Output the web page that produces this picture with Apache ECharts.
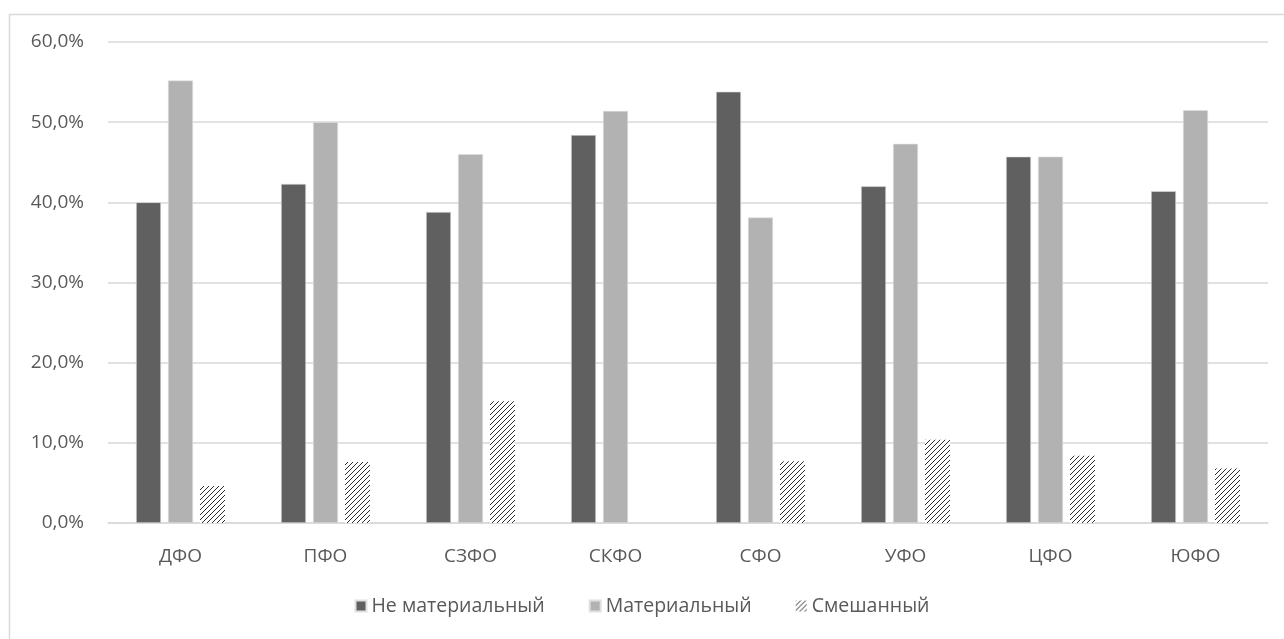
<!DOCTYPE html>
<html>
<head>
<meta charset="utf-8">
<script src="https://cdn.jsdelivr.net/npm/echarts@6/dist/echarts.min.js"></script>
<style>
html,body{margin:0;padding:0;background:#fff;}
#c{width:1284px;height:639px;}
</style>
</head>
<body>
<div id="c"></div>
<script>
const categories = ['ДФО','ПФО','СЗФО','СКФО','СФО','УФО','ЦФО','ЮФО'];
const seriesNames = ['Не материальный','Материальный','Смешанный'];
const nonMaterial = [40.0, 42.3, 38.8, 48.4, 53.8, 42.0, 45.7, 41.4];
const material    = [55.2, 50.0, 46.0, 51.4, 38.1, 47.3, 45.7, 51.5];
const mixed       = [4.6, 7.6, 15.2, 0, 7.7, 10.4, 8.4, 6.8];
const yTicks = [0, 10, 20, 30, 40, 50, 60];

function makePattern() {
  const s = 5;
  const cv = document.createElement('canvas');
  cv.width = s; cv.height = s;
  const ctx = cv.getContext('2d');
  ctx.fillStyle = '#ffffff';
  ctx.fillRect(0, 0, s, s);
  ctx.strokeStyle = '#2a2a2a';
  ctx.lineWidth = 1;
  ctx.beginPath();
  ctx.moveTo(-1, s + 1); ctx.lineTo(s + 1, -1);
  ctx.moveTo(-1, 1); ctx.lineTo(1, -1);
  ctx.moveTo(s - 1, s + 1); ctx.lineTo(s + 1, s - 1);
  ctx.stroke();
  return cv;
}
const pat = makePattern();
const hatch = { image: pat, repeat: 'repeat' };

const font = '"Open Sans", "Noto Sans", sans-serif';
const txt = '#595959';

const chart = echarts.init(document.getElementById('c'));
chart.setOption({
  animation: false,
  backgroundColor: '#fff',
  graphic: [{
    type: 'rect', left: 7, top: 12,
    shape: { x: 0, y: 0, width: 1400, height: 700 },
    style: { fill: 'none', stroke: '#d9d9d9', lineWidth: 1.5 },
    silent: true, z: -1
  }],
  grid: { left: 108, right: 16, top: 42, bottom: 116, containLabel: false },
  legend: {
    bottom: 18, left: 'center',
    itemWidth: 11, itemHeight: 11, itemGap: 44,
    icon: 'rect',
    textStyle: { color: txt, fontSize: 19.5, fontFamily: font },
    data: seriesNames
  },
  xAxis: {
    type: 'category', data: categories,
    axisLine: { lineStyle: { color: '#d9d9d9', width: 1.5 } },
    axisTick: { show: false },
    axisLabel: { color: txt, fontSize: 19, fontFamily: font, margin: 24 }
  },
  yAxis: {
    type: 'value', min: yTicks[0], max: yTicks[yTicks.length - 1], interval: 10,
    axisLine: { show: false }, axisTick: { show: false },
    splitLine: { lineStyle: { color: '#d9d9d9', width: 1.5 } },
    axisLabel: {
      color: txt, fontSize: 19, fontFamily: font, margin: 24,
      formatter: v => v.toFixed(1).replace('.', ',') + '%'
    }
  },
  series: [
    { name: seriesNames[0], type: 'bar', data: nonMaterial, barWidth: 25, barGap: '28%',
      itemStyle: { color: '#606060', borderColor: '#e0e0e0', borderWidth: 0.6 } },
    { name: seriesNames[1], type: 'bar', data: material, barWidth: 25, barGap: '28%',
      itemStyle: { color: '#b2b2b2', borderColor: '#e0e0e0', borderWidth: 0.6 } },
    { name: seriesNames[2], type: 'bar', data: mixed, barWidth: 25, barGap: '28%',
      itemStyle: { color: hatch } }
  ]
});
</script>
</body>
</html>
